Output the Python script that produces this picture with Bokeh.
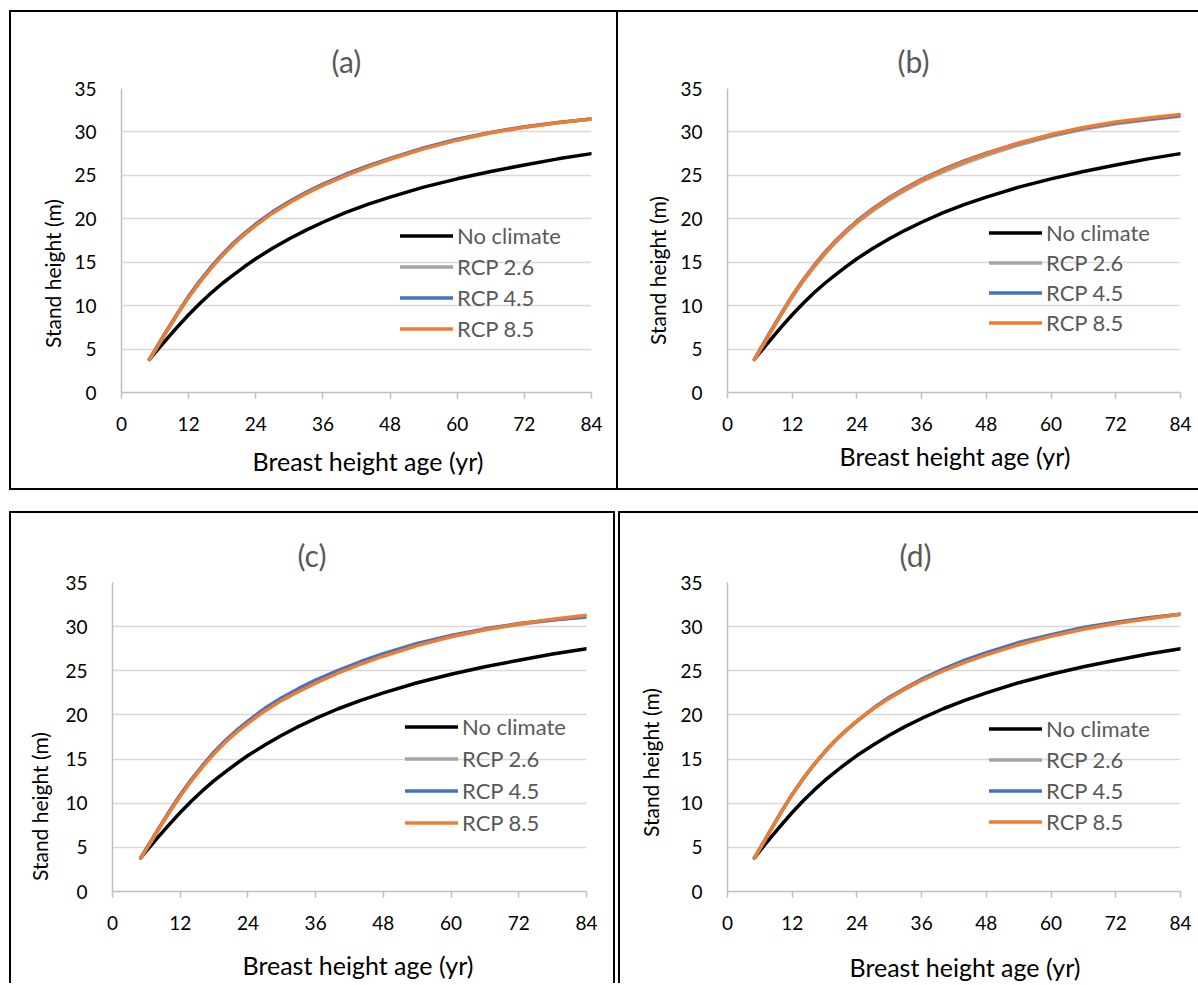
from bokeh.plotting import figure
from bokeh.models import Range1d, FixedTicker, Legend, LegendItem, Title
from bokeh.layouts import column, row
from bokeh.embed import file_html
from bokeh.resources import INLINE

# ---------------- data ----------------
ages = [5, 6, 7, 8, 10, 12, 14, 16, 18, 20, 22, 24, 27, 30, 33, 36, 40, 44, 48, 54, 60, 66, 72, 78, 84]
x_ticks = [0, 12, 24, 36, 48, 60, 72, 84]
y_ticks = [0, 5, 10, 15, 20, 25, 30, 35]
series_names = ["No climate", "RCP 2.6", "RCP 4.5", "RCP 8.5"]
panel_labels = ["(a)", "(b)", "(c)", "(d)"]
x_title = "Breast height age (yr)"
y_title = "Stand height (m)"

a_no_climate = [3.8, 4.6, 5.35, 6.1, 7.55, 8.95, 10.25, 11.45, 12.55, 13.55, 14.5, 15.4, 16.6, 17.7, 18.7, 19.6, 20.7, 21.65, 22.5, 23.65, 24.6, 25.45, 26.2, 26.9, 27.5]
a_rcp26 = [3.8, 4.85, 5.9, 6.95, 9.05, 11.0, 12.75, 14.35, 15.8, 17.1, 18.25, 19.3, 20.7, 21.9, 22.95, 23.9, 25.0, 26.0, 26.9, 28.1, 29.1, 29.9, 30.55, 31.05, 31.5]
a_rcp45 = [3.8, 4.9, 6.0, 7.05, 9.1, 11.1, 12.85, 14.45, 15.9, 17.2, 18.35, 19.4, 20.8, 22.0, 23.05, 24.0, 25.1, 26.1, 26.95, 28.15, 29.15, 29.95, 30.6, 31.1, 31.5]
a_rcp85 = [3.8, 4.85, 5.9, 6.95, 9.0, 10.95, 12.7, 14.3, 15.75, 17.05, 18.2, 19.25, 20.65, 21.85, 22.9, 23.85, 24.95, 25.95, 26.85, 28.05, 29.05, 29.9, 30.55, 31.05, 31.5]

b_no_climate = [3.8, 4.6, 5.35, 6.1, 7.55, 8.95, 10.25, 11.45, 12.55, 13.55, 14.5, 15.4, 16.6, 17.7, 18.7, 19.6, 20.7, 21.65, 22.5, 23.65, 24.6, 25.45, 26.2, 26.9, 27.5]
b_rcp26 = [3.8, 4.85, 5.9, 6.95, 9.0, 11.0, 12.8, 14.4, 15.9, 17.25, 18.45, 19.55, 20.95, 22.2, 23.3, 24.3, 25.4, 26.4, 27.3, 28.5, 29.5, 30.3, 30.95, 31.4, 31.8]
b_rcp45 = [3.8, 4.9, 6.0, 7.05, 9.15, 11.15, 12.95, 14.6, 16.1, 17.45, 18.65, 19.75, 21.2, 22.45, 23.55, 24.55, 25.7, 26.7, 27.55, 28.7, 29.65, 30.45, 31.05, 31.5, 31.9]
b_rcp85 = [3.8, 4.85, 5.9, 6.95, 9.05, 11.05, 12.85, 14.5, 16.0, 17.35, 18.55, 19.65, 21.1, 22.35, 23.45, 24.45, 25.6, 26.6, 27.5, 28.7, 29.7, 30.5, 31.15, 31.6, 32.0]

c_no_climate = [3.8, 4.6, 5.35, 6.1, 7.55, 8.95, 10.25, 11.45, 12.55, 13.55, 14.5, 15.4, 16.6, 17.7, 18.7, 19.6, 20.7, 21.65, 22.5, 23.65, 24.6, 25.45, 26.2, 26.9, 27.5]
c_rcp26 = [3.8, 4.85, 5.85, 6.9, 8.95, 10.9, 12.65, 14.25, 15.7, 17.0, 18.15, 19.2, 20.6, 21.8, 22.85, 23.8, 24.9, 25.9, 26.8, 27.95, 28.9, 29.65, 30.25, 30.75, 31.2]
c_rcp45 = [3.8, 4.85, 5.9, 6.95, 9.0, 10.95, 12.7, 14.3, 15.8, 17.1, 18.25, 19.3, 20.75, 21.95, 23.0, 23.95, 25.05, 26.05, 26.95, 28.1, 29.0, 29.75, 30.35, 30.75, 31.1]
c_rcp85 = [3.8, 4.8, 5.8, 6.85, 8.9, 10.8, 12.55, 14.15, 15.6, 16.9, 18.05, 19.05, 20.45, 21.65, 22.65, 23.6, 24.75, 25.75, 26.65, 27.85, 28.85, 29.65, 30.3, 30.85, 31.3]

d_no_climate = [3.8, 4.6, 5.35, 6.1, 7.55, 8.95, 10.25, 11.45, 12.55, 13.55, 14.5, 15.4, 16.6, 17.7, 18.7, 19.6, 20.7, 21.65, 22.5, 23.65, 24.6, 25.45, 26.2, 26.9, 27.5]
d_rcp26 = [3.8, 4.85, 5.9, 6.95, 9.05, 11.0, 12.75, 14.35, 15.8, 17.1, 18.25, 19.3, 20.7, 21.95, 23.0, 24.0, 25.1, 26.05, 26.9, 28.05, 29.0, 29.8, 30.4, 30.95, 31.4]
d_rcp45 = [3.8, 4.85, 5.9, 6.95, 9.05, 11.0, 12.75, 14.35, 15.8, 17.1, 18.25, 19.3, 20.75, 22.0, 23.05, 24.05, 25.2, 26.2, 27.05, 28.2, 29.1, 29.9, 30.5, 31.0, 31.4]
d_rcp85 = [3.8, 4.85, 5.9, 6.95, 9.05, 11.0, 12.75, 14.35, 15.8, 17.1, 18.25, 19.3, 20.7, 21.9, 22.95, 23.9, 25.0, 25.95, 26.8, 27.95, 28.9, 29.7, 30.35, 30.9, 31.4]

# ---------------- styling ----------------
colors = ["#000000", "#a5a5a5", "#4472c4", "#ed7d31"]
FONT = "Lato"
BORDER = "2px solid black"


def make_panel(label, series, width, height, borders, legend_loc, spacing,
               title_offset, xt_offset, xt_gap, yt_offset, yt_standoff,
               styles, margin):
    p = figure(width=width, height=height,
               x_range=Range1d(0, 84), y_range=Range1d(0, 35),
               output_backend="svg", toolbar_location=None, tools="",
               min_border_left=borders[0], min_border_right=borders[1],
               min_border_top=borders[2], min_border_bottom=borders[3],
               styles=styles, margin=margin)
    p.outline_line_color = None
    p.border_fill_color = "white"
    p.background_fill_color = "white"

    # panel title
    p.title.text = label
    p.title.text_font = FONT
    p.title.text_font_size = "30px"
    p.title.text_font_style = "normal"
    p.title.text_color = "#595959"
    p.title.align = "left"
    p.title.offset = title_offset
    p.title.standoff = 20

    # axes
    p.xaxis.ticker = FixedTicker(ticks=x_ticks)
    p.yaxis.ticker = FixedTicker(ticks=y_ticks)
    for ax in (p.xaxis, p.yaxis):
        ax.axis_line_color = "#bfbfbf"
        ax.axis_line_width = 1.5
        ax.minor_tick_line_color = None
        ax.major_label_text_font = FONT
        ax.major_label_text_font_size = "19px"
        ax.major_label_text_color = "#000000"
    p.xaxis.major_tick_line_color = "#bfbfbf"
    p.xaxis.major_tick_line_width = 1.5
    p.xaxis.major_tick_out = 6
    p.xaxis.major_tick_in = 0
    p.xaxis.major_label_standoff = 18
    p.yaxis.major_tick_line_color = None
    p.yaxis.major_tick_out = 0
    p.yaxis.major_tick_in = 0
    p.yaxis.major_label_standoff = 25

    p.xgrid.visible = False
    p.ygrid.grid_line_color = "#d9d9d9"
    p.ygrid.grid_line_width = 1.5

    # axis titles: a thin blank title pushes the x title down by xt_gap pixels
    p.add_layout(Title(text=" ", text_font_size="1px", standoff=xt_gap), "below")
    p.add_layout(Title(text=x_title, align="left", offset=xt_offset,
                       text_font=FONT, text_font_size="25px", text_font_style="normal",
                       text_color="#000000", standoff=0), "below")
    p.add_layout(Title(text=y_title, align="left", offset=yt_offset,
                       text_font=FONT, text_font_size="21px", text_font_style="normal",
                       text_color="#000000", standoff=yt_standoff), "left")

    items = []
    for name, ys, col in zip(series_names, series, colors):
        r = p.line(ages, ys, line_color=col, line_width=3.5, line_join="round", line_cap="round")
        items.append(LegendItem(label=name, renderers=[r]))

    legend = Legend(items=items, location=legend_loc, orientation="vertical",
                    label_text_font=FONT, label_text_font_size="22px",
                    label_text_color="#595959", glyph_width=53, glyph_height=27,
                    label_height=27, label_standoff=4, spacing=spacing,
                    padding=0, margin=0, border_line_color=None,
                    background_fill_alpha=0)
    p.add_layout(legend, "center")
    return p


pa = make_panel(panel_labels[0], [a_no_climate, a_rcp26, a_rcp45, a_rcp85],
                609, 480, (110, 29, 76, 100), (279, 50), 4,
                210, 131, 6.5, 44.5, 14,
                {"border": BORDER}, (10, 0, 0, 9))
pb = make_panel(panel_labels[1], [b_no_climate, b_rcp26, b_rcp45, b_rcp85],
                580, 480, (109, 18, 70, 100), (262, 56), 3,
                170, 112, 1.5, 47.5, 16,
                {"border-top": BORDER, "border-bottom": BORDER}, (10, 0, 0, 0))
pc = make_panel(panel_labels[2], [c_no_climate, c_rcp26, c_rcp45, c_rcp85],
                606, 472, (101, 31, 69, 93), (293, 55), 5,
                185, 130, 11.5, 10.5, 22,
                {"border-left": BORDER, "border-top": BORDER, "border-right": BORDER}, (21, 0, 0, 9))
pd = make_panel(panel_labels[3], [d_no_climate, d_rcp26, d_rcp45, d_rcp85],
                580, 472, (105, 20, 66, 94), (262, 56), 4,
                172, 122, 13.5, 54.5, 30,
                {"border-left": BORDER, "border-top": BORDER}, (21, 0, 0, 3))

layout = column(row(pa, pb), row(pc, pd))
open("out.html", "w").write(file_html(layout, INLINE))
